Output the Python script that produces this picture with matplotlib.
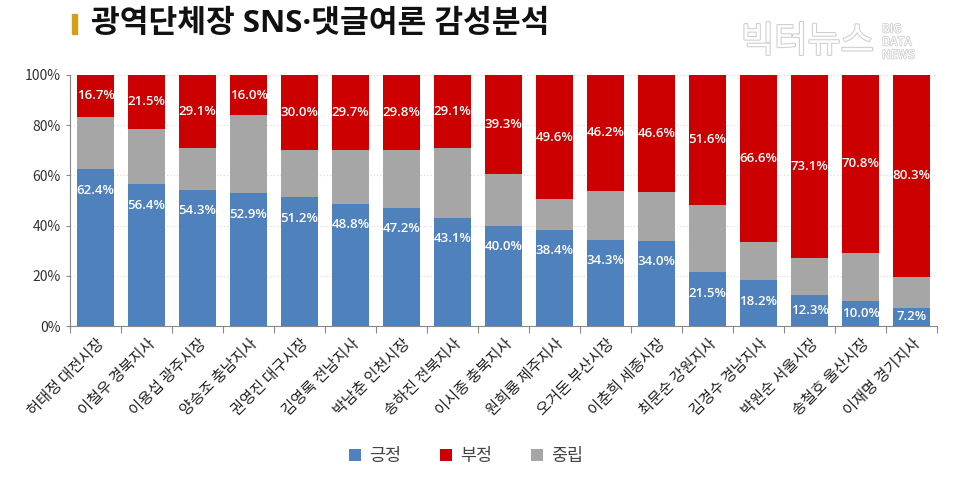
import matplotlib
matplotlib.use("Agg")
import matplotlib.pyplot as plt
import matplotlib.patheffects as pe
from matplotlib.patches import Rectangle
from matplotlib.ticker import FixedLocator, PercentFormatter

plt.rcParams['font.family'] = ['Noto Sans CJK KR', 'DejaVu Sans']

names = ["허태정 대전시장", "이철우 경북지사", "이용섭 광주시장", "양승조 충남지사",
         "권영진 대구시장", "김영록 전남지사", "박남춘 인천시장", "송하진 전북지사",
         "이시종 충북지사", "원희룡 제주지사", "오거돈 부산시장", "이춘희 세종시장",
         "최문순 강원지사", "김경수 경남지사", "박원순 서울시장", "송철호 울산시장",
         "이재명 경기지사"]
positive = [62.4, 56.4, 54.3, 52.9, 51.2, 48.8, 47.2, 43.1, 40.0, 38.4, 34.3, 34.0,
            21.5, 18.2, 12.3, 10.0, 7.2]
negative = [16.7, 21.5, 29.1, 16.0, 30.0, 29.7, 29.8, 29.1, 39.3, 49.6, 46.2, 46.6,
            51.6, 66.6, 73.1, 70.8, 80.3]
neutral = [20.9, 22.1, 16.6, 31.1, 18.8, 21.5, 23.0, 27.8, 20.7, 12.0, 19.5, 19.4,
           26.9, 15.2, 14.6, 19.2, 12.5]
series_names = ["긍정", "부정", "중립"]
yticks = [0, 20, 40, 60, 80, 100]

c_pos, c_neg, c_neu = "#4F81BD", "#CC0000", "#A6A6A6"

fig = plt.figure(figsize=(9.6, 4.87), dpi=100)
ax = fig.add_axes([70/960, 1-326/487, 867/960, 251/487])

x = list(range(len(names)))
w = 0.745
b1 = ax.bar(x, positive, w, color=c_pos, label=series_names[0], zorder=3)
b3 = ax.bar(x, neutral, w, bottom=positive, color=c_neu, label=series_names[2], zorder=3)
bot3 = [p + n for p, n in zip(positive, neutral)]
b2 = ax.bar(x, negative, w, bottom=bot3, color=c_neg, label=series_names[1], zorder=3)

lab_font = ['Open Sans', 'DejaVu Sans']
for i in x:
    p = positive[i]
    yp = max(p - 8.4, p / 2)
    ax.text(i, yp, f"{p:.1f}%", ha='center', va='center', color='white',
            fontsize=9.5, fontweight='semibold', family=lab_font, zorder=4)
    ng = negative[i]
    ax.text(i, bot3[i] + ng / 2, f"{ng:.1f}%", ha='center', va='center', color='white',
            fontsize=9.5, fontweight='semibold', family=lab_font, zorder=4)

ax.set_xlim(-0.5, len(names) - 0.5)
ax.set_ylim(0, 100)
ax.yaxis.set_major_locator(FixedLocator(yticks))
ax.yaxis.set_major_formatter(PercentFormatter(decimals=0))
ax.tick_params(axis='y', labelsize=10, labelcolor='#333333', length=3, width=0.8,
               color='#888888')
ax.grid(axis='y', color='#D9D9D9', linestyle=(0, (1, 2)), linewidth=0.8, zorder=0)

ax.set_xticks(x)
ax.set_xticklabels(names, rotation=45, ha='right', rotation_mode='anchor',
                   fontsize=11, color='#222222')
ax.tick_params(axis='x', which='major', length=0, pad=7)
ax.xaxis.set_minor_locator(FixedLocator([k - 0.5 for k in range(len(names) + 1)]))
ax.tick_params(axis='x', which='minor', length=5, width=0.8, color='#888888')

for s in ['top', 'right']:
    ax.spines[s].set_visible(False)
for s in ['left', 'bottom']:
    ax.spines[s].set_color('#888888')
    ax.spines[s].set_linewidth(0.8)

fig.legend(handles=[b1, b2, b3], labels=[series_names[0], series_names[1], series_names[2]],
           loc='center', bbox_to_anchor=(466/960, 1-456/487), ncol=3, frameon=False,
           fontsize=12.5, handlelength=0.7, handleheight=0.7, handletextpad=0.5,
           columnspacing=2.2, labelcolor='#444444')

# title
fig.patches.append(Rectangle((72/960, 1-34/487), 5/960, 20/487, transform=fig.transFigure,
                             color='#D4A017', zorder=5))
fig.text(91/960, 1-24/487, "광역단체장 SNS·댓글여론 감성분석", fontsize=22.5, fontweight='bold',
         family=['Open Sans', 'Noto Sans CJK KR'],
         color='#111111', va='center', ha='left')

# watermark
fig.text(741/960, 1-42/487, "빅터뉴스", fontsize=26, color='white', va='center', ha='left',
         path_effects=[pe.withStroke(linewidth=1.6, foreground='#D0D0D0')])
fig.text(882/960, 1-42/487, "BIG\nDATA\nNEWS", fontsize=8.5, color='white', va='center',
         ha='left', linespacing=1.0,
         path_effects=[pe.withStroke(linewidth=1.2, foreground='#D0D0D0')])

fig.savefig("out.png", dpi=100)
